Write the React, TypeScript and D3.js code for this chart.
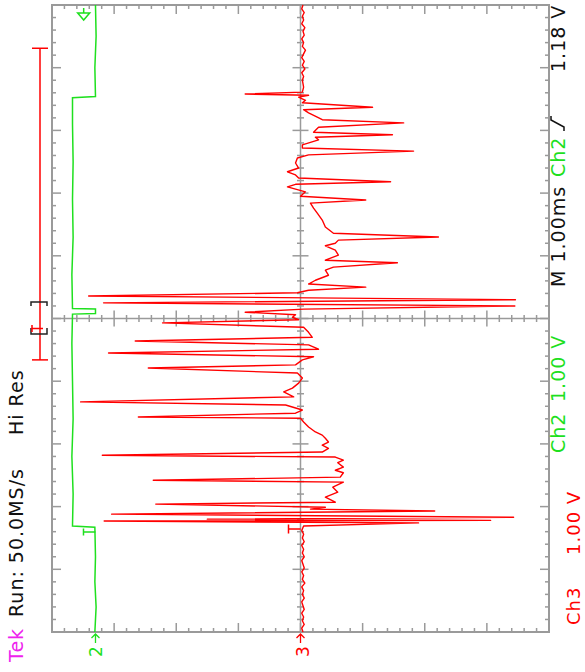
import * as d3 from "d3";

// Tek scope capture, screen turned 90° (time runs bottom -> top, volts grow to the left)
// M 1.00 ms/div, 10 divisions; Ch2 and Ch3 at 1.00 V/div

// Ch3 (red) before the burst: [ms, V]
const ch3Pre: [number, number][] = [
	[0, -0.04], [0.06, -0.02], [0.12, -0.06], [0.18, -0.03], [0.24, -0.05], [0.3, -0.02],
	[0.36, -0.06], [0.42, -0.04], [0.48, -0.02], [0.54, -0.06], [0.6, -0.03], [0.66, -0.05],
	[0.72, -0.02], [0.78, -0.07], [0.84, -0.03], [0.9, -0.05], [0.96, -0.02], [1.02, -0.06],
	[1.08, -0.04], [1.14, -0.02], [1.2, -0.06], [1.26, -0.03], [1.32, -0.05], [1.38, -0.02],
	[1.44, -0.06], [1.5, -0.03], [1.56, -0.05], [1.62, -0.02],
];

// Ch3 burst of spikes: [ms, V]
const ch3Burst: [number, number][] = [
	[1.69, -0.05], [1.74, -1.9], [1.75, -0.03], [1.77, 3.16], [1.78, -3.06], [1.8, 1.5],
	[1.83, -3.43], [1.88, 3.04], [1.93, -2.16], [1.96, -0.16], [1.99, -0.4], [2.04, 2.33],
	[2.07, -0.56], [2.15, -0.4], [2.23, -0.6], [2.31, -0.52], [2.39, -0.69], [2.42, 2.37],
	[2.47, -0.64], [2.54, -0.69], [2.58, -0.56], [2.63, -0.69], [2.7, -0.6], [2.74, -0.69],
	[2.79, -0.56], [2.82, 3.19], [2.87, -0.35], [2.93, -0.45], [2.98, -0.35], [3.03, -0.45],
	[3.09, -0.4], [3.14, -0.35], [3.19, -0.24], [3.27, -0.13], [3.35, -0.05], [3.41, 0],
	[3.43, 2.61], [3.49, 0.08], [3.54, -0.03], [3.62, 0.24], [3.67, 3.54], [3.75, 0.11],
	[3.83, 0.27], [3.89, 0.13], [3.97, 0.03], [4.05, -0.03], [4.13, 0.05], [4.21, 2.45],
	[4.26, 0.08], [4.34, -0.03], [4.39, -0.21], [4.45, 3.09], [4.51, -0.29], [4.58, -0.13],
	[4.64, 2.66], [4.7, -0.19], [4.78, -0.13], [4.86, -0.05], [4.93, 2.22], [4.98, 0.03],
	[5.02, 0.13], [5.06, 0.08], [5.1, 0.89], [5.15, -0.05], [5.2, -3.45], [5.25, 3.17],
	[5.3, -3.46], [5.36, 3.41], [5.41, 0.05], [5.45, -0.13], [5.5, -1.05], [5.55, -0.13],
	[5.61, -0.24], [5.69, -0.45], [5.77, -0.4], [5.82, -0.53], [5.89, -1.56], [5.93, -0.4],
	[6.01, -0.61], [6.09, -0.56], [6.16, -0.4], [6.2, -0.56], [6.25, -0.61], [6.3, -2.22],
	[6.36, -0.53], [6.46, -0.4], [6.57, -0.35], [6.68, -0.27], [6.76, -0.21], [6.84, -0.16],
	[6.89, -1.05], [6.95, 0], [7.02, -0.08], [7.1, 0.21], [7.14, 0.08], [7.18, -1.45],
	[7.24, 0.03], [7.29, 0.08], [7.34, 0.21], [7.4, 0.03], [7.48, 0.08], [7.56, 0.05],
	[7.61, -0.13], [7.67, -1.82], [7.72, -0.03], [7.77, -0.03], [7.85, -0.29], [7.89, -0.24],
	[7.93, -1.48], [7.97, -0.21], [8.05, -0.29], [8.12, -1.66], [8.17, -0.35], [8.21, -0.27],
	[8.28, -0.13], [8.33, -0.05], [8.37, -1.16], [8.44, -0.03], [8.48, -0.08], [8.53, 0.03],
	[8.56, -0.13], [8.58, 0.89], [8.61, -0.03], [8.69, -0.05], [8.8, -0.03],
];

// Ch3 after the burst: [ms, V]
const ch3Post: [number, number][] = [
	[8.86, -0.05], [8.92, -0.02], [8.98, -0.07], [9.04, -0.03], [9.1, -0.06], [9.16, -0.02],
	[9.22, -0.05], [9.28, -0.08], [9.34, -0.03], [9.4, -0.05], [9.46, -0.02], [9.52, -0.06],
	[9.58, -0.04], [9.64, -0.07], [9.7, -0.02], [9.76, -0.05], [9.82, -0.03], [9.88, -0.06],
	[9.94, -0.02], [10, -0.04],
];

// Ch2 (green) gate signal: [ms, V]
const ch2Trace: [number, number][] = [
	[0, 0.01], [0.4, -0.01], [0.8, 0.01], [1.2, 0], [1.67, 0.01], [1.69, 0.37], [2.2, 0.36],
	[2.8, 0.38], [3.4, 0.36], [4, 0.37], [4.6, 0.38], [5.07, 0.37], [5.08, 0], [5.15, 0],
	[5.16, 0.37], [5.7, 0.38], [6.3, 0.36], [6.9, 0.37], [7.5, 0.36], [8.1, 0.37], [8.52, 0.37],
	[8.54, 0], [9, 0.01], [9.5, -0.01], [10, 0],
];

// channel ground offsets (divisions) and trigger settings
const ch2Offset = 3.3;
const ch3Offset = 0;
const trigLevelCh2 = 0.19;
const trigTime = 1.65;
const recordView = [4.34, 9.31];

const W = 585;
const H = 672;
const frame = { left: 52, right: 549, top: 5, bottom: 632 };

const red = "#ff0000";
const green = "#1ee01e";
const grid = "#9a9a9a";
const font = "DejaVu Sans, sans-serif";

export default function App() {
	// ---- Scales ----
	const ty = d3.scaleLinear().domain([0, 10]).range([frame.bottom, frame.top]);
	const vx = d3.scaleLinear().domain([4, -4]).range([frame.left, frame.right]);

	const tTicks = d3.range(0, 51).map((i) => i / 5);
	const vTicks = d3.range(-20, 21).map((i) => i / 5);
	const isMajor = (v: number) => Math.abs(v - Math.round(v)) < 1e-6;

	const ch3Line = d3
		.line<[number, number]>()
		.x((d) => vx(d[1] + ch3Offset))
		.y((d) => ty(d[0]));
	const ch2Line = d3
		.line<[number, number]>()
		.x((d) => vx(d[1] + ch2Offset))
		.y((d) => ty(d[0]));

	const cx = vx(0);
	const cy = ty(5);
	const g2x = vx(ch2Offset);
	const g3x = vx(ch3Offset);
	const trigY = ty(trigTime);
	const trigX = vx(trigLevelCh2 + ch2Offset);

	const rot = (x: number, y: number) => `translate(${x},${y}) rotate(-90)`;

	return (
		<svg
			width={W}
			height={H}
			style={{ position: "absolute", left: 0, top: 0, background: "#fff" }}
		>
			{/* ---- Graticule ---- */}
			<g stroke={grid} fill="none">
				<rect
					x={frame.left}
					y={frame.top}
					width={frame.right - frame.left}
					height={frame.bottom - frame.top}
					strokeWidth={2}
				/>
				<line x1={cx} x2={cx} y1={frame.top} y2={frame.bottom} strokeWidth={1.5} />
				<line x1={frame.left} x2={frame.right} y1={cy} y2={cy} strokeWidth={1.5} />
				{tTicks.map((t) => {
					const y = ty(t);
					const m = isMajor(t);
					return (
						<g key={"t" + t} strokeWidth={1.5}>
							<line x1={frame.left} x2={frame.left + (m ? 9 : 4)} y1={y} y2={y} />
							<line x1={frame.right} x2={frame.right - (m ? 9 : 4)} y1={y} y2={y} />
							<line x1={cx - (m ? 8 : 3.5)} x2={cx + (m ? 8 : 3.5)} y1={y} y2={y} />
						</g>
					);
				})}
				{vTicks.map((v) => {
					const x = vx(v);
					const m = isMajor(v);
					return (
						<g key={"v" + v} strokeWidth={1.5}>
							<line x1={x} x2={x} y1={frame.top} y2={frame.top + (m ? 9 : 4)} />
							<line x1={x} x2={x} y1={frame.bottom} y2={frame.bottom - (m ? 9 : 4)} />
							<line x1={x} x2={x} y1={cy - (m ? 8 : 3.5)} y2={cy + (m ? 8 : 3.5)} />
						</g>
					);
				})}
			</g>

			{/* ---- Traces ---- */}
			<path d={ch2Line(ch2Trace) ?? ""} fill="none" stroke={green} strokeWidth={1.5} />
			<path
				d={ch3Line([...ch3Pre, ...ch3Burst, ...ch3Post]) ?? ""}
				fill="none"
				stroke={red}
				strokeWidth={1.4}
				strokeLinejoin="round"
			/>

			{/* ---- Trigger markers ---- */}
			<g fill="none" strokeWidth={1.5}>
				<path d={`M${g2x - 12},${trigY} V${trigY + 7} M${g2x - 12},${trigY + 3.5} H${g2x}`} stroke={green} />
				<path d={`M${g3x - 12},${trigY - 4} V${trigY + 5} M${g3x - 12},${trigY + 0.5} H${g3x}`} stroke={red} />
				<path d={`M${trigX},${frame.top + 3} V${frame.top + 8} M${trigX - 6},${frame.top + 8} H${trigX + 6} L${trigX},${frame.top + 15} Z`} stroke={green} />
			</g>

			{/* ---- Ground markers ---- */}
			<g fill="none" strokeWidth={1.3}>
				<path d={`M${g2x},${frame.bottom + 11} V${frame.bottom + 2} M${g2x - 4},${frame.bottom + 6} L${g2x},${frame.bottom + 2} L${g2x + 4},${frame.bottom + 6}`} stroke={green} />
				<path d={`M${g3x},${frame.bottom + 11} V${frame.bottom + 2} M${g3x - 4},${frame.bottom + 6} L${g3x},${frame.bottom + 2} L${g3x + 4},${frame.bottom + 6}`} stroke={red} />
			</g>
			<text transform={rot(g2x + 7, frame.bottom + 25)} fontFamily={font} fontSize={17} fill={green}>2</text>
			<text transform={rot(g3x + 8, frame.bottom + 25)} fontFamily={font} fontSize={17} fill={red}>3</text>

			{/* ---- Record view cursor ---- */}
			<g fill="none" strokeWidth={1.5}>
				<line x1={40} x2={40} y1={ty(recordView[1])} y2={ty(recordView[0])} stroke={red} />
				<line x1={32} x2={48} y1={ty(recordView[1])} y2={ty(recordView[1])} stroke={red} />
				<line x1={32} x2={48} y1={ty(recordView[0])} y2={ty(recordView[0])} stroke={red} />
				<path d="M31,306 V302 H47 V306" stroke="#222" />
				<path d="M31,328 V334 H47 V328" stroke="#222" />
				<path d="M32,325 V332 M32,328.5 H43" stroke={red} />
			</g>

			{/* ---- Readouts ---- */}
			<g fontFamily={font} fontSize={19} letterSpacing={1}>
				<text transform={rot(23, 662)} fill="#ee22ee">Tek</text>
				<text transform={rot(23, 617)} fill="#111">Run: 50.0MS/s</text>
				<text transform={rot(23, 435)} fill="#111">Hi Res</text>

				<text transform={rot(580, 625)} fontSize={18} fill={red}>Ch3</text>
				<text transform={rot(580, 555)} fontSize={18} fill={red}>1.00 V</text>

				<text transform={rot(565, 453)} fill={green}>Ch2</text>
				<text transform={rot(565, 402)} fill={green}>1.00 V</text>
				<text transform={rot(565, 287)} fill="#111">M 1.00ms</text>
				<text transform={rot(565, 177)} fill={green}>Ch2</text>
				<text transform={rot(565, 72)} fill="#111">1.18 V</text>
			</g>
			<path d="M564,131 V127 L551,120 V116" fill="none" stroke="#111" strokeWidth={1.5} />
		</svg>
	);
}
